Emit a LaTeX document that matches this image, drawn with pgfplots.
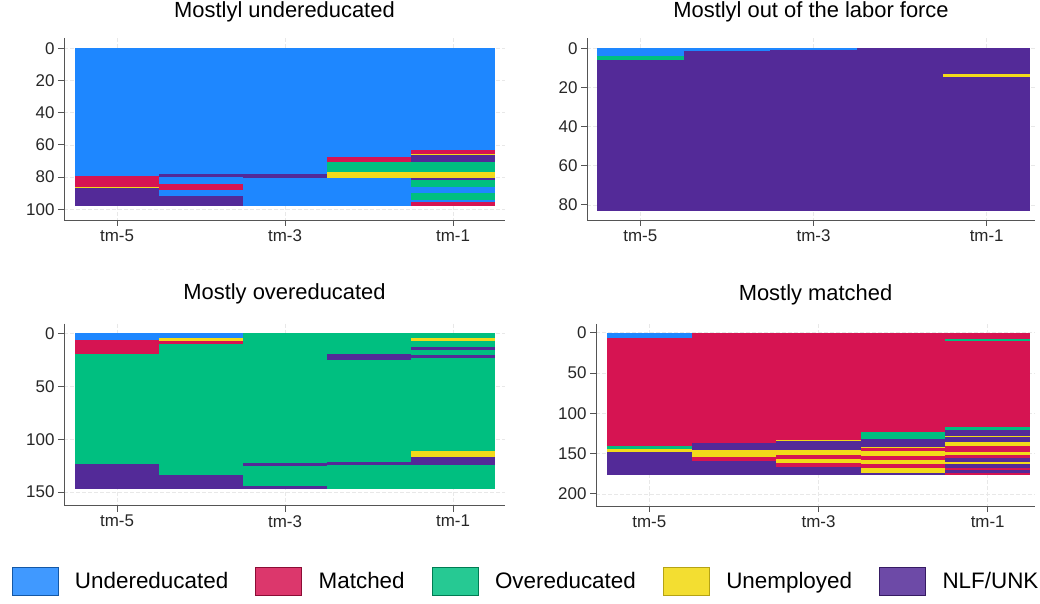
\documentclass[border=0pt]{standalone}
\usepackage{fontspec}
\setmainfont{Liberation Sans}
\usepackage{pgfplots}
\pgfplotsset{compat=1.18}
\definecolor{und}{HTML}{1E87FF}
\definecolor{mat}{HTML}{D61452}
\definecolor{ove}{HTML}{00BF80}
\definecolor{une}{HTML}{F2DA1A}
\definecolor{nlf}{HTML}{532A98}
\definecolor{axc}{HTML}{555555}
\newcommand{\seg}[5]{\addplot[fill=#5, draw=none, forget plot] coordinates {(#1,#3) (#2,#3) (#2,#4) (#1,#4)} --cycle;}
\pgfplotsset{
  sq/.style={
    scale only axis, anchor=south west, y dir=reverse,
    axis x line*=bottom, axis y line*=left,
    axis line style={axc, line width=0.9bp},
    tick style={axc, line width=0.9bp}, tick align=outside, major tick length=6bp,
    xtick={1,3,5}, xticklabels={tm-5,tm-3,tm-1},
    tick label style={font=\fontsize{17}{20}\selectfont, black!85},
    /pgf/number format/assume math mode=true,
    grid=major, major grid style={gray!18, line width=0.6bp, dash pattern=on 4bp off 2bp},
    title style={font=\fontsize{22}{26}\selectfont, at={(0.5,1)}, anchor=base},
    clip=false,
  }
}
\begin{document}
\begin{tikzpicture}
\useasboundingbox (0,0) rectangle (1040bp,604bp);
% Panel 1
\begin{axis}[sq, at={(64bp,384bp)}, width=441bp, height=182bp,
  xmin=0.369, xmax=5.619, ymin=-6.4, ymax=106.6, ytick={0,20,...,100},
  title={Mostlyl undereducated}, title style={yshift=15bp}]
\seg{0.5}{5.5}{0}{98}{und}
\seg{0.5}{1.5}{79}{86}{mat}
\seg{0.5}{1.5}{86}{87}{une}
\seg{0.5}{1.5}{87}{98}{nlf}
\seg{1.5}{2.5}{78}{80}{nlf}
\seg{1.5}{2.5}{84}{88}{mat}
\seg{1.5}{2.5}{91.5}{98}{nlf}
\seg{2.5}{3.5}{78}{80.5}{nlf}
\seg{3.5}{4.5}{67.3}{70.6}{mat}
\seg{3.5}{4.5}{70.6}{77}{ove}
\seg{3.5}{4.5}{77}{80.3}{une}
\seg{4.5}{5.5}{63}{65.5}{mat}
\seg{4.5}{5.5}{65.5}{66.5}{une}
\seg{4.5}{5.5}{66.5}{70.6}{nlf}
\seg{4.5}{5.5}{70.6}{77}{ove}
\seg{4.5}{5.5}{77}{80.3}{une}
\seg{4.5}{5.5}{80.3}{82}{nlf}
\seg{4.5}{5.5}{82}{86}{ove}
\seg{4.5}{5.5}{90}{94}{ove}
\seg{4.5}{5.5}{95.5}{98}{mat}
\end{axis}
% Panel 2
\begin{axis}[sq, at={(587bp,384bp)}, width=448bp, height=182bp,
  xmin=0.3845, xmax=5.5577, ymin=-5.2, ymax=87.7, ytick={0,20,...,80},
  title={Mostlyl out of the labor force}, title style={yshift=15bp}]
\seg{0.5}{5.5}{0}{83}{nlf}
\seg{0.5}{1.5}{0}{4}{und}
\seg{0.5}{1.5}{4}{6}{ove}
\seg{1.5}{2.5}{0}{1.5}{und}
\seg{2.5}{3.5}{0}{1}{und}
\seg{4.5}{5.5}{13}{14.5}{une}
\end{axis}
% Panel 3
\begin{axis}[sq, at={(64bp,98.3bp)}, width=441bp, height=182bp,
  xmin=0.369, xmax=5.619, ymin=-9.2, ymax=162.8, ytick={0,50,100,150},
  title={Mostly overeducated}, title style={yshift=18bp}]
\seg{0.5}{5.5}{0}{147}{ove}
\seg{0.5}{1.5}{0}{6}{und}
\seg{0.5}{1.5}{6}{19}{mat}
\seg{0.5}{1.5}{123}{147}{nlf}
\seg{1.5}{2.5}{0}{4.5}{und}
\seg{1.5}{2.5}{4.5}{7.5}{une}
\seg{1.5}{2.5}{7.5}{10}{mat}
\seg{1.5}{2.5}{133.5}{147}{nlf}
\seg{2.5}{3.5}{122.5}{125}{nlf}
\seg{2.5}{3.5}{144}{147}{nlf}
\seg{3.5}{4.5}{19.5}{25.5}{nlf}
\seg{3.5}{4.5}{121.2}{124.3}{nlf}
\seg{4.5}{5.5}{4.5}{7.5}{une}
\seg{4.5}{5.5}{12.5}{15.5}{nlf}
\seg{4.5}{5.5}{20.3}{23.5}{nlf}
\seg{4.5}{5.5}{111}{116.4}{une}
\seg{4.5}{5.5}{116.4}{124.3}{nlf}
\end{axis}
% Panel 4
\begin{axis}[sq, at={(596bp,98bp)}, width=439bp, height=182bp,
  xmin=0.37, xmax=5.559, ymin=-10.8, ymax=215, ytick={0,50,...,200},
  title={Mostly matched}, title style={yshift=18bp},
  legend image code/.code={\draw[#1] (0bp,-14bp) rectangle (46bp,14bp);},
  legend style={at={(-0.1617,-0.412)}, anchor=center, legend columns=5,
    draw=none, fill=none, font=\fontsize{22.5}{26}\selectfont,
    nodes={inner xsep=0pt, inner ysep=2bp},
    /tikz/every odd column/.append style={column sep=17bp},
    /tikz/every even column/.append style={column sep=27bp}}]
\seg{0.5}{5.5}{0}{176}{mat}
\seg{0.5}{1.5}{0}{7}{und}
\seg{0.5}{1.5}{141}{144.5}{ove}
\seg{0.5}{1.5}{144.5}{148.5}{une}
\seg{0.5}{1.5}{148.5}{176}{nlf}
\seg{1.5}{2.5}{137}{146}{nlf}
\seg{1.5}{2.5}{146}{154}{une}
\seg{1.5}{2.5}{159}{176}{nlf}
\seg{2.5}{3.5}{133}{134.5}{une}
\seg{2.5}{3.5}{134.5}{146}{nlf}
\seg{2.5}{3.5}{146}{152}{une}
\seg{2.5}{3.5}{157}{162}{une}
\seg{2.5}{3.5}{167}{176}{nlf}
\seg{3.5}{4.5}{123}{131.5}{ove}
\seg{3.5}{4.5}{131.5}{142}{nlf}
\seg{3.5}{4.5}{142}{143}{une}
\seg{3.5}{4.5}{147}{153}{une}
\seg{3.5}{4.5}{158}{163}{une}
\seg{3.5}{4.5}{168}{173.5}{une}
\seg{3.5}{4.5}{173.5}{176}{nlf}
\seg{4.5}{5.5}{8}{10.5}{ove}
\seg{4.5}{5.5}{117.5}{121}{ove}
\seg{4.5}{5.5}{121}{128}{nlf}
\seg{4.5}{5.5}{128}{129.5}{une}
\seg{4.5}{5.5}{129.5}{136}{nlf}
\seg{4.5}{5.5}{136}{140}{une}
\seg{4.5}{5.5}{148}{152}{une}
\seg{4.5}{5.5}{156}{161}{nlf}
\seg{4.5}{5.5}{161}{163}{une}
\seg{4.5}{5.5}{163}{168}{nlf}
\seg{4.5}{5.5}{170}{174}{nlf}
\addlegendimage{fill=und!85!white, draw=und!65!black}
\addlegendentry{Undereducated}
\addlegendimage{fill=mat!85!white, draw=mat!65!black}
\addlegendentry{Matched}
\addlegendimage{fill=ove!85!white, draw=ove!65!black}
\addlegendentry{Overeducated}
\addlegendimage{fill=une!90!white, draw=une!75!black}
\addlegendentry{Unemployed}
\addlegendimage{fill=nlf!85!white, draw=nlf!65!black}
\addlegendentry{NLF/UNK}
\end{axis}
\end{tikzpicture}
\end{document}
